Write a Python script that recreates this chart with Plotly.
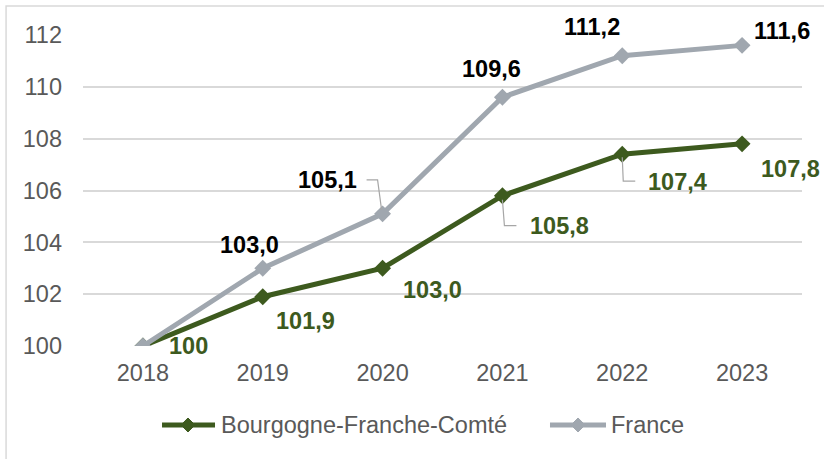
import plotly.graph_objects as go

years = ["2018", "2019", "2020", "2021", "2022", "2023"]
bfc = [100.0, 101.9, 103.0, 105.8, 107.4, 107.8]
france = [100.0, 103.0, 105.1, 109.6, 111.2, 111.6]
bfc_labels = ["100", "101,9", "103,0", "105,8", "107,4", "107,8"]
france_labels = [None, "103,0", "105,1", "109,6", "111,2", "111,6"]
y_ticks = [100, 102, 104, 106, 108, 110, 112]
series_names = ["Bourgogne-Franche-Comté", "France"]

GREEN = "#3D5A1E"
GREY = "#A0A7AF"
FONT = "Liberation Sans, Arial, sans-serif"
TXT = "#595959"

# label offsets (pixels) from their points
bfc_off = [(46, 0), (43, -24), (50, -22), (57, -30), (55, -28), (48, -25)]
fr_off = [(0, 0), (-13, 23), (-55, 34), (-11, 28), (-30, 29), (40, 14)]

fig = go.Figure()
fig.add_trace(go.Scatter(x=years, y=bfc, name=series_names[0], mode="lines+markers",
                         line=dict(color=GREEN, width=5),
                         marker=dict(symbol="diamond", size=13, color=GREEN)))
fig.add_trace(go.Scatter(x=years, y=france, name=series_names[1], mode="lines+markers",
                         line=dict(color=GREY, width=5),
                         marker=dict(symbol="diamond", size=13, color=GREY)))

annotations = []
for i, (y, t, (dx, dy)) in enumerate(zip(bfc, bfc_labels, bfc_off)):
    annotations.append(dict(x=i, y=y, xref="x", yref="y", text="<b>%s</b>" % t, showarrow=False,
                            xshift=dx, yshift=dy, font=dict(family=FONT, size=23.5, color=GREEN)))
for i, (y, t, (dx, dy)) in enumerate(zip(france, france_labels, fr_off)):
    if t is None:
        continue
    annotations.append(dict(x=i, y=y, xref="x", yref="y", text="<b>%s</b>" % t, showarrow=False,
                            xshift=dx, yshift=dy, font=dict(family=FONT, size=23.5, color="#000000")))

shapes = []
# leader lines (anchored at data points, path in pixel offsets)
leaders = [(2, france[2], "M-16,34L-5,34L-1,4"),
           (3, bfc[3], "M0,-4L2,-30L14,-30"),
           (4, bfc[4], "M0,-3L1,-27L13,-27")]
for xi, y, p in leaders:
    shapes.append(dict(type="path", xref="x", yref="y", xsizemode="pixel", ysizemode="pixel",
                       xanchor=xi, yanchor=y, path=p, line=dict(color="#A6A6A6", width=1.2)))
# chart border
shapes.append(dict(type="rect", xref="paper", yref="paper", x0=-0.107, x1=1.06, y0=-0.40, y1=1.093,
                   line=dict(color="#D9D9D9", width=1.5), layer="below"))

# custom legend (paper coordinates)
LEG_Y = -0.254
legend_items = [(0.1099, 0.1836, 0.146, 0.1895, GREEN, series_names[0]),
                (0.6495, 0.7274, 0.6885, 0.7315, GREY, series_names[1])]
for lx0, lx1, dx, tx, col, name in legend_items:
    shapes.append(dict(type="line", xref="paper", yref="paper", x0=lx0, x1=lx1, y0=LEG_Y, y1=LEG_Y,
                       line=dict(color=col, width=5)))
    shapes.append(dict(type="path", xref="paper", yref="paper", xsizemode="pixel", ysizemode="pixel",
                       xanchor=dx, yanchor=LEG_Y, path="M0,7L7,0L0,-7L-7,0Z",
                       fillcolor=col, line=dict(color=col, width=1)))
    annotations.append(dict(x=tx, y=LEG_Y, xref="paper", yref="paper", text=name, showarrow=False,
                            xanchor="left", yanchor="middle",
                            font=dict(family=FONT, size=23.5, color=TXT)))

fig.update_layout(
    width=824, height=459,
    margin=dict(l=83, r=22, t=35, b=113),
    paper_bgcolor="white", plot_bgcolor="white",
    showlegend=False,
    xaxis=dict(type="category", range=[-0.5, 5.5], showgrid=False, showline=False,
               ticks="", tickfont=dict(family=FONT, size=23.5, color=TXT)),
    yaxis=dict(range=[100, 112], tickvals=y_ticks, showgrid=True, gridcolor="#D9D9D9",
               gridwidth=1.5, zeroline=False, showline=False, ticks="", ticklen=0,
               tickfont=dict(family=FONT, size=23.5, color=TXT)),
    annotations=annotations, shapes=shapes,
)
fig.update_yaxes(ticklabelstandoff=20)
fig.update_xaxes(ticklabelstandoff=10)
fig.write_html("out.html", config={"displayModeBar": False},
               post_script="document.body.style.margin='0';")
